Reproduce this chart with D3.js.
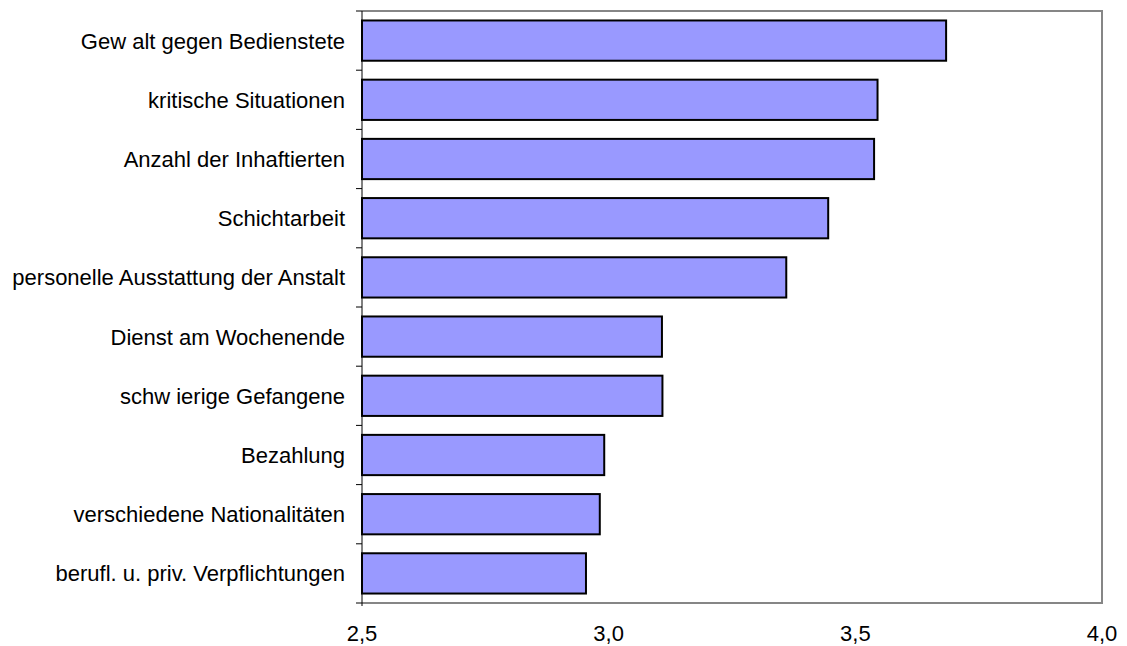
<!DOCTYPE html>
<html>
<head>
<meta charset="utf-8">
<script src="https://cdn.jsdelivr.net/npm/d3@7"></script>
<style>
  body { margin: 0; background: #fff; }
  text { font-family: "Liberation Sans", Arial, sans-serif; fill: #000; }
</style>
</head>
<body>
<svg id="chart" width="1127" height="646"></svg>
<script>
'use strict';

var categories = [
  "Gew alt gegen Bedienstete",
  "kritische Situationen",
  "Anzahl der Inhaftierten",
  "Schichtarbeit",
  "personelle Ausstattung der Anstalt",
  "Dienst am Wochenende",
  "schw ierige Gefangene",
  "Bezahlung",
  "verschiedene Nationalitäten",
  "berufl. u. priv. Verpflichtungen"
];
var values = [3.684, 3.545, 3.538, 3.445, 3.360, 3.108, 3.109, 2.991, 2.982, 2.954];
var xTicks = [2.5, 3.0, 3.5, 4.0];

var plotLeft = 362, plotRight = 1102, plotTop = 11, plotBottom = 603;

var svg = d3.select("#chart");

var x = d3.scaleLinear().domain([2.5, 4.0]).range([plotLeft, plotRight]);
var y = d3.scaleBand().domain(categories).range([plotTop, plotBottom])
  .paddingInner(0.32).paddingOuter(0.16);

// frame (top, right, bottom)
svg.append("path")
  .attr("d", "M" + plotLeft + "," + plotTop + "H" + plotRight + "V" + plotBottom + "H" + plotLeft)
  .attr("fill", "none")
  .attr("stroke", "#868686")
  .attr("stroke-width", 2);

// bars
svg.selectAll(".bar")
  .data(values)
.enter().append("rect")
  .attr("class", "bar")
  .attr("x", x(2.5))
  .attr("y", function(d, i) { return y(categories[i]); })
  .attr("width", function(d) { return x(d) - x(2.5); })
  .attr("height", y.bandwidth())
  .attr("fill", "#9999ff")
  .attr("stroke", "#000")
  .attr("stroke-width", 2);

// left axis with ticks at category boundaries
var step = y.step();
var bounds = d3.range(categories.length + 1).map(function(i) {
  return plotTop + i * step;
});
svg.append("line")
  .attr("x1", plotLeft).attr("x2", plotLeft)
  .attr("y1", plotTop).attr("y2", plotBottom + 3)
  .attr("stroke", "#000").attr("stroke-width", 1);
svg.selectAll(".ytick")
  .data(bounds)
.enter().append("line")
  .attr("class", "ytick")
  .attr("x1", plotLeft - 6).attr("x2", plotLeft)
  .attr("y1", function(d) { return d; })
  .attr("y2", function(d) { return d; })
  .attr("stroke", "#000");

// category labels
svg.selectAll(".ylabel")
  .data(categories)
.enter().append("text")
  .attr("class", "ylabel")
  .attr("x", plotLeft - 17)
  .attr("y", function(d) { return y(d) + y.bandwidth() / 2; })
  .attr("dy", "0.36em")
  .attr("text-anchor", "end")
  .style("font-size", "22px")
  .text(function(d) { return d; });

// x labels
var fmt = function(d) { return d3.format(".1f")(d).replace(".", ","); };
svg.selectAll(".xlabel")
  .data(xTicks)
.enter().append("text")
  .attr("class", "xlabel")
  .attr("x", function(d) { return x(d); })
  .attr("y", 641)
  .attr("text-anchor", "middle")
  .style("font-size", "22px")
  .text(fmt);
</script>
</body>
</html>
